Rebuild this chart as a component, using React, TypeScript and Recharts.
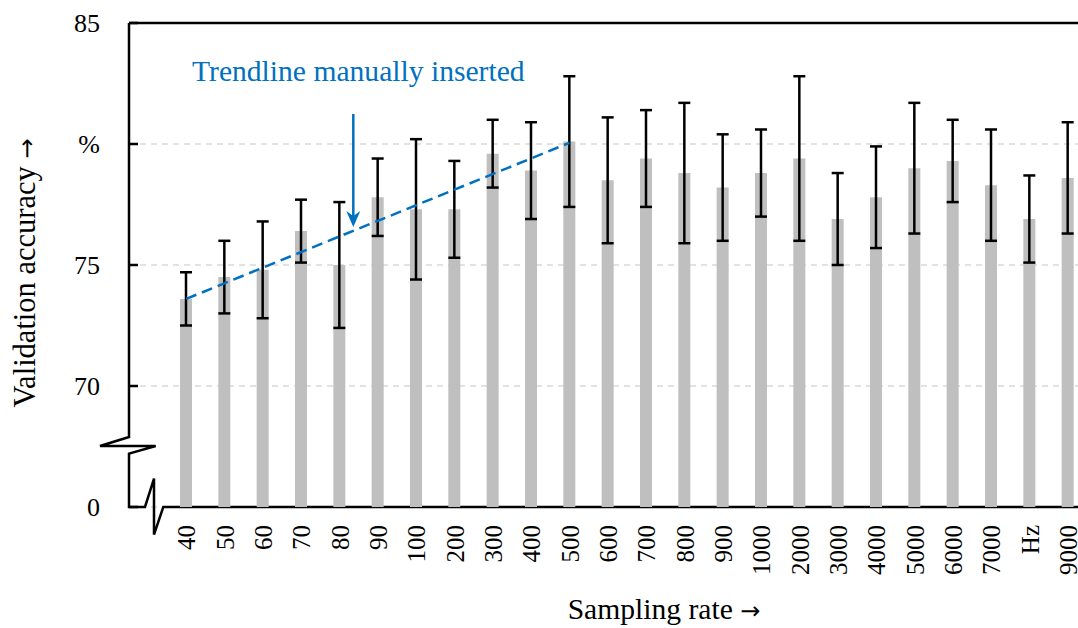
import React from 'react';
import {
  ComposedChart,
  Bar,
  Line,
  ErrorBar,
  XAxis,
  YAxis,
  CartesianGrid,
  Customized,
} from 'recharts';

const rates = ['40', '50', '60', '70', '80', '90', '100', '200', '300', '400', '500', '600', '700', '800', '900', '1000', '2000', '3000', '4000', '5000', '6000', '7000', 'Hz', '9000'];
const accuracy = [73.6, 74.5, 74.8, 76.4, 75.0, 77.8, 77.3, 77.3, 79.6, 78.9, 80.1, 78.5, 79.4, 78.8, 78.2, 78.8, 79.4, 76.9, 77.8, 79.0, 79.3, 78.3, 76.9, 78.6];
const spread = [1.1, 1.5, 2.0, 1.3, 2.6, 1.6, 2.9, 2.0, 1.4, 2.0, 2.7, 2.6, 2.0, 2.9, 2.2, 1.8, 3.4, 1.9, 2.1, 2.7, 1.7, 2.3, 1.8, 2.3];
// hand-drawn trendline: only the two end points
const trend: (number | null)[] = [73.6, null, null, null, null, null, null, null, null, null, 80.05, null, null, null, null, null, null, null, null, null, null, null, null, null];
const yTicks = [65, 70, 75, 80, 85];
const yTickText: Record<number, string> = { 65: '0', 70: '70', 75: '75', 80: '%', 85: '85' };

const data = rates.map((rate, i) => ({ rate, acc: accuracy[i], err: spread[i], trend: trend[i] }));

const W = 1087;
const H = 628;
const TOP = 23;
const LEFT = 129;
const XAXIS_H = 121;
const BOTTOM = H - XAXIS_H;
const FONT = '"Liberation Serif", serif';
const ARROW_FONT = '"DejaVu Sans", sans-serif';
const BLUE = '#0070C0';

const YTick = ({ x, y, payload }: any) => (
  <g>
    <line x1={LEFT} x2={LEFT + 9} y1={y} y2={y} stroke="#000" strokeWidth={2.5} />
    <text x={x} y={y} dy="0.34em" textAnchor="end" fontFamily={FONT} fontSize={26} fill="#000">
      {yTickText[payload.value]}
    </text>
  </g>
);

const XTick = ({ x, payload }: any) => (
  <text
    x={x}
    y={525}
    dy="0.36em"
    textAnchor="end"
    transform={`rotate(-90, ${x}, 525)`}
    fontFamily={FONT}
    fontSize={25}
    fill="#000"
  >
    {payload.value}
  </text>
);

const Frame = () => (
  <g>
    <line x1={LEFT} x2={W} y1={TOP} y2={TOP} stroke="#000" strokeWidth={2.5} />
    <path
      d={`M${LEFT},${TOP} L${LEFT},${BOTTOM - 70} L${LEFT - 29},${BOTTOM - 61} L${LEFT + 26.7},${BOTTOM - 61} L${LEFT},${BOTTOM - 53.4} L${LEFT},${BOTTOM} L${LEFT + 16},${BOTTOM} L${LEFT + 25},${BOTTOM - 28.4} L${LEFT + 25},${BOTTOM + 27.6} L${LEFT + 34.3},${BOTTOM} L${W},${BOTTOM}`}
      fill="none"
      stroke="#000"
      strokeWidth={2.5}
      strokeLinejoin="miter"
    />
    <text x={192} y={80.7} fontFamily={FONT} fontSize={29.6} fill={BLUE}>Trendline manually inserted</text>
    <line x1={353.3} x2={353.3} y1={114} y2={216} stroke={BLUE} strokeWidth={2.5} />
    <path d="M346.3,211 L353.3,227 L360.3,211 L353.3,216 Z" fill={BLUE} />
    <text x={664} y={619} textAnchor="middle" fontFamily={FONT} fontSize={29.6} fill="#000">
      Sampling rate <tspan fontFamily={ARROW_FONT} fontSize={24}>→</tspan>
    </text>
    <text x={35} y={273} textAnchor="middle" transform="rotate(-90, 35, 273)" fontFamily={FONT} fontSize={30.5} fill="#000">
      Validation accuracy <tspan fontFamily={ARROW_FONT} fontSize={24}>→</tspan>
    </text>
  </g>
);

export default function App() {
  return (
    <div style={{ position: 'absolute', left: 0, top: 0, width: 1078, height: 628, overflow: 'hidden', background: '#fff' }}>
      <ComposedChart width={W} height={H} data={data} margin={{ top: TOP, right: 0, left: 0, bottom: 0 }}>
        <CartesianGrid vertical={false} stroke="#d9d9d9" strokeDasharray="6 5" strokeWidth={1.5} />
        <XAxis
          dataKey="rate"
          interval={0}
          height={XAXIS_H}
          padding={{ left: 38, right: 0 }}
          axisLine={false}
          tickLine={false}
          tickSize={0}
          tick={<XTick />}
        />
        <YAxis
          type="number"
          domain={[65, 85]}
          ticks={yTicks}
          interval={0}
          width={LEFT}
          axisLine={false}
          tickLine={false}
          tickSize={0}
          tickMargin={29}
          tick={<YTick />}
        />
        <Bar dataKey="acc" fill="#bfbfbf" barSize={12} isAnimationActive={false}>
          <ErrorBar dataKey="err" direction="y" width={6} stroke="#000" strokeWidth={2.5} />
        </Bar>
        <Line
          dataKey="trend"
          connectNulls
          stroke={BLUE}
          strokeWidth={2.5}
          strokeDasharray="11 6"
          dot={false}
          activeDot={false}
          isAnimationActive={false}
        />
        <Customized component={<Frame />} />
      </ComposedChart>
    </div>
  );
}
